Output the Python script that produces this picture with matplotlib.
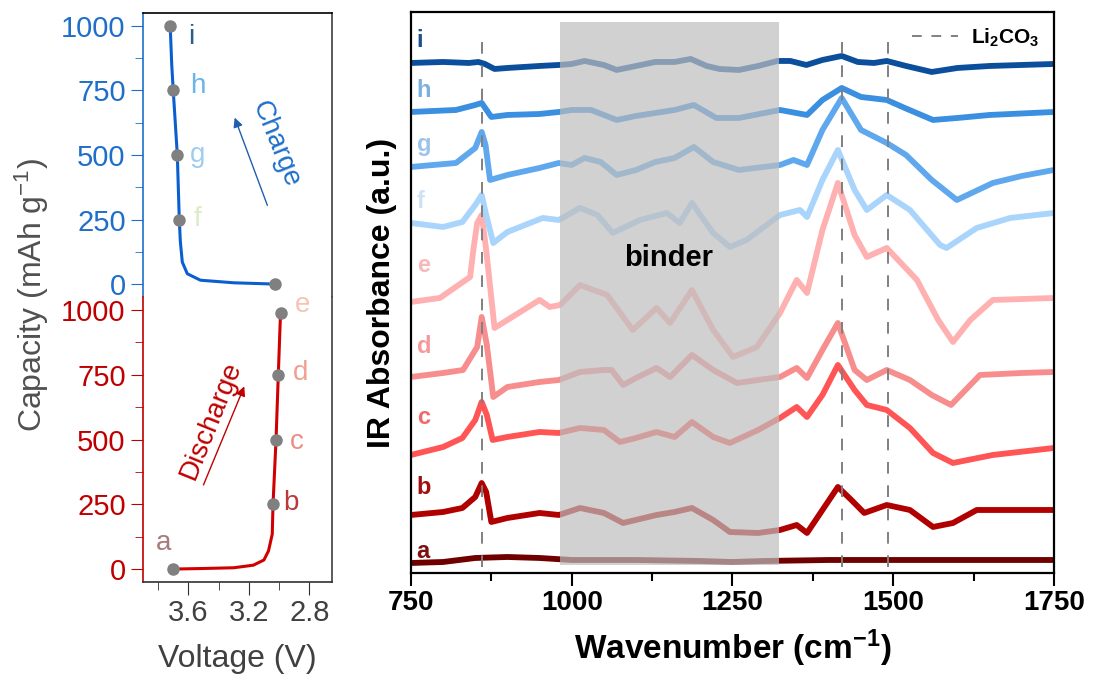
import matplotlib.pyplot as plt
from matplotlib.lines import Line2D
from matplotlib.ticker import MultipleLocator

plt.rcParams['font.family'] = ['Liberation Sans', 'DejaVu Sans']
plt.rcParams['mathtext.fontset'] = 'custom'
plt.rcParams['mathtext.rm'] = 'Liberation Sans'
plt.rcParams['mathtext.it'] = 'Liberation Sans:italic'
plt.rcParams['mathtext.bf'] = 'Liberation Sans:bold'

# charge / discharge curves (voltage V, capacity mAh/g)
chg_v = [3.025, 3.30, 3.52, 3.607, 3.64, 3.653, 3.66, 3.673, 3.70, 3.71, 3.72]
chg_cap = [0, 5, 15, 40, 85, 165, 250, 500, 750, 850, 1000]
dis_v = [3.70, 3.52, 3.30, 3.17, 3.10, 3.07, 3.045, 3.04, 3.02, 3.005, 2.99]
dis_cap = [0, 2, 5, 15, 35, 70, 135, 250, 500, 750, 995]

chg_pts_v = [3.025, 3.66, 3.673, 3.70, 3.72]
chg_pts_cap = [0, 250, 500, 750, 1000]
dis_pts_v = [3.70, 3.04, 3.02, 3.005, 2.99]
dis_pts_cap = [0, 250, 500, 750, 990]

chg_letters = ['i', 'h', 'g', 'f']
chg_lab_v = [3.60, 3.587, 3.587, 3.567]
chg_lab_cap = [957, 767, 500, 252]
chg_lab_col = ['#2c5d8f', '#6ab4e8', '#9fcdf0', '#dcebc8']

dis_letters = ['e', 'd', 'c', 'b', 'a']
dis_lab_v = [2.893, 2.906, 2.926, 2.972, 3.818]
dis_lab_cap = [1019, 758, 492, 254, 100]
dis_lab_col = ['#f7c4b4', '#f0a090', '#ee8c84', '#b83a3a', '#a87c7c']

# IR spectra (wavenumber cm-1, offset absorbance in arbitrary units)
wn_a = [750, 800, 850, 900, 950, 1000, 1100, 1200, 1250, 1300, 1400, 1500, 1600, 1700, 1750]
ir_a = [10, 11, 15, 16, 15, 13, 13, 12, 11, 12, 13, 13, 13, 13, 13]

wn_b = [750, 800, 830, 850, 860, 867, 875, 900, 950, 980, 1013, 1050, 1080, 1132, 1160, 1187,
        1220, 1246, 1290, 1324, 1350, 1366, 1390, 1414, 1435, 1455, 1490, 1526, 1562, 1593,
        1630, 1700, 1750]
ir_b = [58, 61, 65, 76, 90, 81, 51, 55, 60, 58, 65, 60, 50, 58, 61, 65,
        53, 41, 40, 43, 48, 40, 63, 86, 73, 60, 68, 63, 46, 50,
        63, 63, 63]

wn_c = [750, 800, 830, 850, 860, 868, 877, 900, 950, 980, 1013, 1050, 1075, 1100, 1132, 1160,
        1187, 1220, 1246, 1290, 1324, 1350, 1366, 1390, 1414, 1440, 1459, 1490, 1526, 1562,
        1593, 1655, 1750]
ir_c = [118, 126, 135, 153, 171, 158, 133, 136, 141, 140, 145, 143, 131, 135, 141, 136,
        151, 136, 130, 143, 155, 166, 156, 178, 208, 183, 168, 163, 145, 120,
        110, 118, 125]

wn_d = [750, 800, 831, 853, 860, 868, 878, 900, 950, 980, 1013, 1050, 1062, 1080, 1100, 1132,
        1153, 1187, 1220, 1257, 1290, 1324, 1350, 1366, 1390, 1414, 1440, 1459, 1490, 1526,
        1560, 1590, 1635, 1700, 1750]
ir_d = [196, 200, 203, 226, 256, 228, 176, 186, 191, 193, 201, 203, 203, 188, 195, 205,
        196, 218, 203, 190, 193, 196, 205, 195, 223, 250, 203, 193, 203, 193,
        178, 168, 198, 200, 201]

wn_e = [750, 795, 842, 847, 853, 860, 867, 880, 900, 950, 966, 982, 1013, 1055, 1095, 1132,
        1153, 1187, 1220, 1251, 1288, 1324, 1350, 1366, 1390, 1414, 1440, 1459, 1490, 1537,
        1570, 1593, 1620, 1655, 1750]
ir_e = [271, 275, 296, 323, 350, 358, 323, 245, 253, 273, 266, 268, 288, 278, 243, 265,
        250, 283, 243, 216, 226, 260, 293, 280, 343, 390, 338, 316, 325, 293,
        253, 231, 253, 273, 275]

wn_f = [750, 800, 830, 850, 860, 867, 878, 900, 955, 980, 1013, 1040, 1064, 1106, 1148, 1168,
        1187, 1220, 1246, 1272, 1324, 1355, 1366, 1390, 1414, 1440, 1459, 1490, 1526, 1573,
        1583, 1630, 1682, 1750]
ir_f = [350, 346, 351, 368, 378, 358, 330, 341, 355, 353, 365, 358, 340, 353, 360, 350,
        370, 340, 326, 333, 358, 363, 356, 393, 423, 383, 363, 378, 363, 328,
        325, 345, 355, 360]

wn_g = [750, 820, 850, 860, 866, 873, 900, 950, 980, 1000, 1020, 1045, 1070, 1100, 1130, 1160,
        1190, 1220, 1260, 1324, 1345, 1366, 1390, 1420, 1450, 1490, 1520, 1560, 1599, 1655,
        1700, 1750]
ir_g = [406, 410, 425, 441, 428, 393, 398, 405, 410, 408, 415, 411, 398, 403, 411, 415,
        426, 411, 403, 408, 413, 408, 443, 475, 443, 430, 418, 393, 373, 390,
        397, 403]

wn_h = [750, 820, 850, 860, 875, 900, 950, 980, 1000, 1030, 1070, 1100, 1130, 1160, 1190, 1225,
        1260, 1324, 1366, 1390, 1420, 1450, 1490, 1518, 1562, 1600, 1650, 1750]
ir_h = [461, 463, 468, 470, 456, 458, 459, 461, 463, 463, 453, 457, 460, 463, 468, 455,
        455, 463, 458, 473, 485, 476, 473, 465, 453, 455, 458, 461]

wn_i = [750, 800, 840, 855, 865, 880, 900, 950, 980, 1000, 1020, 1050, 1070, 1100, 1130, 1160,
        1185, 1210, 1230, 1260, 1290, 1320, 1340, 1365, 1390, 1420, 1445, 1470, 1490, 1520,
        1560, 1600, 1650, 1700, 1750]
ir_i = [510, 511, 510, 511, 509, 504, 505, 507, 508, 509, 512, 508, 503, 507, 511, 511,
        514, 507, 504, 503, 507, 512, 512, 508, 513, 517, 511, 510, 512, 507,
        501, 505, 507, 508, 509]

spectra = [(wn_a, ir_a), (wn_b, ir_b), (wn_c, ir_c), (wn_d, ir_d), (wn_e, ir_e),
           (wn_f, ir_f), (wn_g, ir_g), (wn_h, ir_h), (wn_i, ir_i)]
spec_letters = ['a', 'b', 'c', 'd', 'e', 'f', 'g', 'h', 'i']
spec_col = ['#6e0000', '#b00000', '#ff5555', '#f78d8d', '#ffb0b0',
            '#a9d4fb', '#5fa8ee', '#3b8fe0', '#0b4f9c']
spec_lab_col = ['#7a1010', '#a01010', '#f26868', '#f49a9a', '#f8b8b8',
                '#cfe2f5', '#9cc4ea', '#7ab0e0', '#1a4f8c']
spec_lab_y = [21, 85, 155, 226, 307, 371, 428, 482, 532]

li2co3_wn = [860, 1420, 1492]
binder_range = (982, 1322)

blue = '#1f6fc9'
red = '#c00000'

fig = plt.figure(figsize=(11, 6.84), dpi=100)
ax_c = fig.add_axes([0.130, 0.5658, 0.1718, 0.4152])
ax_d = fig.add_axes([0.130, 0.1491, 0.1718, 0.4167])
ax_ir = fig.add_axes([0.3736, 0.1623, 0.5845, 0.8202])

# ---- left: voltage profile ----
for ax in (ax_c, ax_d):
    ax.set_xlim(3.9, 2.65)
    ax.set_ylim(-50, 1050)
    ax.yaxis.set_major_locator(MultipleLocator(250))
    ax.yaxis.set_minor_locator(MultipleLocator(125))
    ax.xaxis.set_major_locator(MultipleLocator(0.4))
    ax.xaxis.set_minor_locator(MultipleLocator(0.2))
    for s in ax.spines.values():
        s.set_linewidth(1.2)
    ax.spines['right'].set_color('#404040')

ax_c.plot(chg_v, chg_cap, color='#0a5fd0', lw=2.2)
ax_c.plot(chg_pts_v, chg_pts_cap, 'o', color='#808080', ms=8, zorder=3)
ax_c.spines['bottom'].set_visible(False)
ax_c.spines['top'].set_color('black')
ax_c.spines['left'].set_color(blue)
ax_c.tick_params(axis='y', which='both', colors=blue, labelsize=21, direction='out')
ax_c.tick_params(axis='y', which='major', length=9)
ax_c.tick_params(axis='y', which='minor', length=6)
ax_c.tick_params(axis='x', which='both', bottom=False, labelbottom=False)
for t, v, c, col in zip(chg_letters, chg_lab_v, chg_lab_cap, chg_lab_col):
    ax_c.text(v, c, t, color=col, fontsize=20, ha='left', va='center')
ax_c.annotate('', xy=(3.30, 655), xytext=(3.071, 295),
              arrowprops=dict(arrowstyle='-|>', color='#1f5fb0', lw=1, mutation_scale=14))
ax_c.text(3.02, 540, 'Charge', color='#1f6fc9', fontsize=20, rotation=-68,
          ha='center', va='center')

ax_d.plot(dis_v, dis_cap, color='#d00000', lw=2.2)
ax_d.plot(dis_pts_v, dis_pts_cap, 'o', color='#808080', ms=8, zorder=3)
ax_d.spines['top'].set_visible(False)
ax_d.spines['left'].set_color(red)
ax_d.spines['bottom'].set_color('#303030')
ax_d.tick_params(axis='y', which='both', colors=red, labelsize=21)
ax_d.tick_params(axis='y', which='major', length=9)
ax_d.tick_params(axis='y', which='minor', length=6)
ax_d.tick_params(axis='x', which='both', colors='#303030', labelsize=21, labelcolor='#404040')
ax_d.tick_params(axis='x', which='major', length=9)
ax_d.tick_params(axis='x', which='minor', length=6)
for t, v, c, col in zip(dis_letters, dis_lab_v, dis_lab_cap, dis_lab_col):
    ax_d.text(v, c, t, color=col, fontsize=20, ha='left', va='center')
ax_d.annotate('', xy=(3.223, 715), xytext=(3.507, 315),
              arrowprops=dict(arrowstyle='-|>', color='#c00000', lw=1, mutation_scale=14))
ax_d.text(3.45, 573, 'Discharge', color='#c00000', fontsize=20, rotation=68,
          ha='center', va='center')
ax_d.set_xlabel('Voltage (V)', fontsize=23, color='#404040', labelpad=12)

fig.text(0.029, 1 - 295 / 684, 'Capacity (mAh g$^{-1}$)', rotation=90, fontsize=23,
         color='#505050', ha='center', va='center')

# ---- right: IR spectra ----
for (wn, ir), col in zip(spectra, spec_col):
    ax_ir.plot(wn, ir, color=col, lw=4.2, zorder=2, solid_joinstyle='round')

ax_ir.axvspan(binder_range[0], binder_range[1], ymin=8 / 561, ymax=551 / 561,
              facecolor='#bebebe', alpha=0.7, lw=0, zorder=3)
ax_ir.text(1150, 315, 'binder', fontsize=21, fontweight='bold', ha='center', va='center', zorder=4)
ax_ir.vlines(li2co3_wn, 6, 541, colors='#808080', linestyles=(0, (6, 6)), lw=1.4, zorder=5)

for t, y, col in zip(spec_letters, spec_lab_y, spec_lab_col):
    ax_ir.text(759, y, t, color=col, fontsize=17, fontweight='bold', ha='left', va='center', zorder=6)

ax_ir.set_xlim(750, 1750)
ax_ir.set_ylim(0, 561)
ax_ir.xaxis.set_major_locator(MultipleLocator(250))
ax_ir.xaxis.set_minor_locator(MultipleLocator(125))
ax_ir.set_yticks([])
for s in ax_ir.spines.values():
    s.set_linewidth(1.6)
    s.set_color('black')
ax_ir.tick_params(axis='x', which='major', length=9, width=1.5, labelsize=20)
ax_ir.tick_params(axis='x', which='minor', length=6, width=1.5)
for lab in ax_ir.get_xticklabels():
    lab.set_fontweight('bold')
ax_ir.set_xlabel(r'Wavenumber (cm$^{\mathbf{-1}}$)', fontsize=24, fontweight='bold', labelpad=8)
ax_ir.set_ylabel('IR Absorbance (a.u.)', fontsize=23, fontweight='bold', labelpad=10)

handle = Line2D([], [], color='#808080', ls=(0, (5, 5)), lw=1.4)
ax_ir.legend([handle], [r'Li$_\mathbf{2}$CO$_\mathbf{3}$'], loc='upper right', frameon=False,
             prop={'weight': 'bold', 'size': 15}, handlelength=2.2, handletextpad=0.6,
             borderaxespad=0.3)

fig.savefig('out.png', dpi=100)
